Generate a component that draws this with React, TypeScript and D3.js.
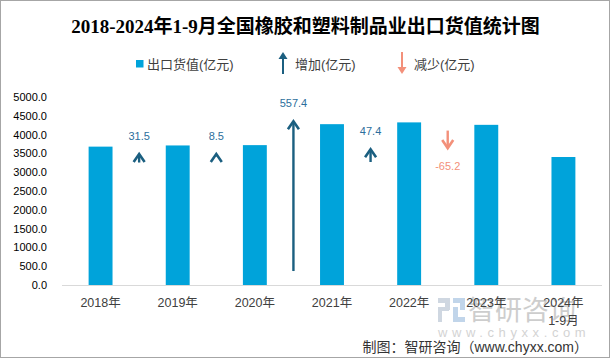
import React from "react";
import * as d3 from "d3";

const categories = ["2018年", "2019年", "2020年", "2021年", "2022年", "2023年", "2024年\n1-9月"];
const exportValues = [3680, 3711.5, 3720, 4277.4, 4324.8, 4259.6, 3404];
const changes = [31.5, 8.5, 557.4, 47.4, -65.2];
// start of each change arrow on the (hidden) secondary axis
const arrowStart = [456, 479, 52, 458, 575];
const yTicks = [0, 500, 1000, 1500, 2000, 2500, 3000, 3500, 4000, 4500, 5000];

const W = 611;
const H = 359;
const BAR = "#00A3DA";
const UP = "#1B5F80";
const UP_LABEL = "#2C6E9C";
const DOWN = "#F3907A";
const SANS = "'Liberation Sans', Arial, 'Noto Sans CJK SC', sans-serif";

export default function App() {
  const x = d3
    .scaleBand<string>()
    .domain(categories)
    .range([62, 602])
    .paddingInner(0.69)
    .paddingOuter(0.345);
  const y = d3.scaleLinear().domain([0, 5000]).range([285, 97]);
  const y2 = d3.scaleLinear().domain([0, 700]).range([285, 97]);
  const step = x.step();

  return (
    <svg
      width={W}
      height={H}
      style={{ position: "absolute", left: 0, top: 0, background: "#fff" }}
      fontFamily={SANS}
    >
      <rect x={0.5} y={0.5} width={609} height={357} fill="#fff" stroke="#A6A6A6" strokeWidth={1} />

      {/* title */}
      <text
        x={305.5}
        y={33}
        textAnchor="middle"
        fontSize={19}
        fontWeight="bold"
        fontFamily="'Liberation Serif', 'Times New Roman', 'Noto Sans CJK SC', serif"
        fill="#000"
      >
        2018-2024年1-9月全国橡胶和塑料制品业出口货值统计图
      </text>

      {/* legend */}
      <g fontSize={13} fill="#404040">
        <rect x={136} y={60} width={7.5} height={7.5} fill={BAR} />
        <text x={147} y={68.5}>出口货值(亿元)</text>
        <line x1={283} y1={74} x2={283} y2={56} stroke={UP} strokeWidth={2} />
        <path d="M278.5,59 L283,52 L287.5,59 Z" fill={UP} />
        <text x={295} y={68.5}>增加(亿元)</text>
        <line x1={402} y1={52} x2={402} y2={70} stroke={DOWN} strokeWidth={2} />
        <path d="M397.5,67 L402,74 L406.5,67 Z" fill={DOWN} />
        <text x={414} y={68.5}>减少(亿元)</text>
      </g>

      {/* y axis labels */}
      <g fontSize={11} fill="#000" textAnchor="end">
        {yTicks.map((t) => (
          <text key={t} x={47} y={y(t) + 4}>
            {t.toFixed(1)}
          </text>
        ))}
      </g>

      {/* bars */}
      {categories.map((c, i) => (
        <rect
          key={c}
          x={x(c)}
          y={y(exportValues[i])}
          width={x.bandwidth()}
          height={y(0) - y(exportValues[i])}
          fill={BAR}
        />
      ))}

      {/* watermark */}
      <g opacity={0.55}>
        <rect x={438} y={298} width={11} height={5} fill="#A9B7C9" />
        <rect x={445} y={298} width={5} height={12} fill="#A9B7C9" />
        <rect x={438} y={307} width={11} height={4} fill="#A9B7C9" />
        <rect x={438} y={307} width={4} height={15} fill="#A9B7C9" />
        <rect x={453} y={298} width={12} height={5} fill="#8FB3D9" />
        <rect x={460} y={298} width={5} height={12} fill="#8FB3D9" />
        <rect x={453} y={317} width={12} height={5} fill="#8FB3D9" />
        <rect x={453} y={307} width={5} height={15} fill="#8FB3D9" />
        <text x={468} y={320} fontSize={27} fill="#A6A6A6" fontFamily="'Noto Sans CJK SC', sans-serif">
          智研咨询
        </text>
        <text x={438} y={337} fontSize={13} fill="#B0B0B0" letterSpacing={4.6}>
          www.chyxx.com
        </text>
      </g>

      {/* x axis */}
      <line x1={62} x2={602} y1={285.5} y2={285.5} stroke="#D9D9D9" strokeWidth={1} />
      <g fontSize={12.5} fill="#404040" textAnchor="middle">
        {categories.map((c) => {
          const cx = (x(c) as number) + x.bandwidth() / 2;
          return c.split("\n").map((line, k) => (
            <text key={c + k} x={cx} y={307 + k * 18}>
              {line}
            </text>
          ));
        })}
      </g>

      {/* change arrows */}
      {changes.map((v, i) => {
        const cx = (x(categories[i]) as number) + x.bandwidth() / 2 + step / 2;
        const yStart = y2(arrowStart[i]);
        const yEnd = y2(arrowStart[i] + v);
        const up = v >= 0;
        const color = up ? UP : DOWN;
        const dir = up ? 1 : -1;
        return (
          <g key={i}>
            <line x1={cx} x2={cx} y1={yStart} y2={yEnd} stroke={color} strokeWidth={2.4} />
            <polyline
              points={`${cx - 5.5},${yEnd + dir * 8} ${cx},${yEnd} ${cx + 5.5},${yEnd + dir * 8}`}
              fill="none"
              stroke={color}
              strokeWidth={2.6}
            />
            <text
              x={cx}
              y={up ? yEnd - 18 + 4 : yEnd + 18 + 4}
              textAnchor="middle"
              fontSize={11}
              fill={up ? UP_LABEL : DOWN}
            >
              {v.toFixed(1)}
            </text>
          </g>
        );
      })}

      {/* footer */}
      <text x={588} y={352} textAnchor="end" fontSize={14} fill="#333">
        制图：智研咨询（www.chyxx.com）
      </text>
    </svg>
  );
}
